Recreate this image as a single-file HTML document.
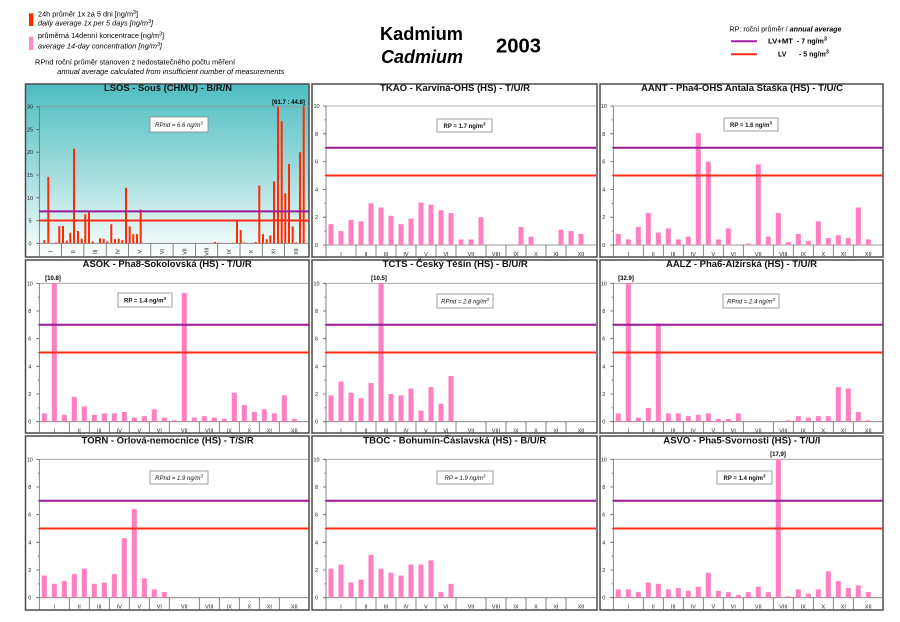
<!DOCTYPE html>
<html><head><meta charset="utf-8"><style>
html,body{margin:0;padding:0;background:#fff;}
body{width:900px;height:622px;overflow:hidden;}
svg{display:block;}
.t{font-size:9.4px;font-weight:bold;fill:#111;}
.ax{font-size:5.5px;fill:#222;text-anchor:middle;}
.bxt{font-size:6px;fill:#111;text-anchor:middle;}
</style></head><body>
<svg width="900" height="622" viewBox="0 0 900 622" xmlns="http://www.w3.org/2000/svg" font-family="'Liberation Sans', Arial, sans-serif">
<defs>
<linearGradient id="tg" x1="0" y1="0" x2="0" y2="1">
<stop offset="0" stop-color="#4dbdc1"/>
<stop offset="0.5" stop-color="#9fdcdd"/>
<stop offset="1" stop-color="#ffffff"/>
</linearGradient>
</defs>
<rect width="900" height="622" fill="#fff"/>

<!-- Header left legend -->
<rect x="29" y="13.3" width="4.3" height="12.7" fill="#ff2a00"/>
<text x="38" y="16.5" font-size="7" textLength="100" lengthAdjust="spacingAndGlyphs">24h průměr 1x za 5 dni [ng/m<tspan dy="-2.5" font-size="5">3</tspan><tspan dy="2.5">]</tspan></text>
<text x="38" y="25.5" font-size="7" font-style="italic" textLength="115" lengthAdjust="spacingAndGlyphs">daily average 1x per 5 days [ng/m<tspan dy="-2.5" font-size="5">3</tspan><tspan dy="2.5">]</tspan></text>
<rect x="29" y="36.7" width="4.3" height="13.3" fill="#ff88c8"/>
<text x="38" y="38" font-size="7" textLength="126" lengthAdjust="spacingAndGlyphs">průměrná 14denní koncentrace [ng/m<tspan dy="-2.5" font-size="5">3</tspan><tspan dy="2.5">]</tspan></text>
<text x="38" y="48.5" font-size="7" font-style="italic" textLength="124" lengthAdjust="spacingAndGlyphs">average 14-day concentration [ng/m<tspan dy="-2.5" font-size="5">3</tspan><tspan dy="2.5">]</tspan></text>
<text x="35" y="64.5" font-size="7" textLength="200" lengthAdjust="spacingAndGlyphs">RPnd  roční průměr stanoven z nedostatečného počtu měření</text>
<text x="57.3" y="74" font-size="7" font-style="italic" textLength="227" lengthAdjust="spacingAndGlyphs">annual average calculated from insufficient number of measurements</text>

<!-- Header center -->
<text x="380" y="40" font-size="18" font-weight="bold" textLength="83" lengthAdjust="spacingAndGlyphs">Kadmium</text>
<text x="381" y="63" font-size="18" font-weight="bold" font-style="italic" textLength="82" lengthAdjust="spacingAndGlyphs">Cadmium</text>
<text x="496" y="52.5" font-size="20" font-weight="bold" textLength="45" lengthAdjust="spacingAndGlyphs">2003</text>

<!-- Header right legend -->
<text x="729.5" y="31.5" font-size="7" textLength="112" lengthAdjust="spacingAndGlyphs">RP: roční průměr / <tspan font-style="italic" font-weight="bold">annual average</tspan></text>
<line x1="731" y1="41.3" x2="757" y2="41.3" stroke="#a020a0" stroke-width="2"/>
<text x="768" y="43.5" font-size="7" font-weight="bold" textLength="25" lengthAdjust="spacingAndGlyphs">LV+MT</text>
<text x="797" y="43.5" font-size="7" font-weight="bold">- 7 ng/m<tspan dy="-3" font-size="5.5">3</tspan></text>
<line x1="731" y1="54.3" x2="757" y2="54.3" stroke="#ff2a1a" stroke-width="2"/>
<text x="778" y="56.5" font-size="7" font-weight="bold">LV</text>
<text x="799" y="56.5" font-size="7" font-weight="bold">- 5 ng/m<tspan dy="-3" font-size="5.5">3</tspan></text>

<!-- Panel frames -->
<g fill="#fff" stroke="#4a4a4a" stroke-width="1.5">
<rect x="25.5" y="84" width="283.5" height="173" fill="url(#tg)"/>
<rect x="312" y="84" width="285" height="173"/>
<rect x="600" y="84" width="283" height="173"/>
<rect x="25.5" y="260" width="283.5" height="173"/>
<rect x="312" y="260" width="285" height="173"/>
<rect x="600" y="260" width="283" height="173"/>
<rect x="25.5" y="436" width="283.5" height="174"/>
<rect x="312" y="436" width="285" height="174"/>
<rect x="600" y="436" width="283" height="174"/>
</g>

<!-- Titles -->
<text class="t" x="104" y="91" textLength="128" lengthAdjust="spacingAndGlyphs">LSOS - Souš (CHMU) - B/R/N</text>
<text class="t" x="380" y="91" textLength="150" lengthAdjust="spacingAndGlyphs">TKAO - Karviná-OHS (HS) - T/U/R</text>
<text class="t" x="641" y="91" textLength="202" lengthAdjust="spacingAndGlyphs">AANT - Pha4-OHS Antala Staška (HS) - T/U/C</text>
<text class="t" x="82.7" y="267" textLength="169" lengthAdjust="spacingAndGlyphs">ASOK - Pha8-Sokolovská (HS) - T/U/R</text>
<text class="t" x="382.7" y="267" textLength="145" lengthAdjust="spacingAndGlyphs">TCTS - Český Těšín (HS) - B/U/R</text>
<text class="t" x="666" y="267" textLength="151" lengthAdjust="spacingAndGlyphs">AALZ - Pha6-Alžírská (HS) - T/U/R</text>
<text class="t" x="81.7" y="443.5" textLength="172" lengthAdjust="spacingAndGlyphs">TORN - Orlová-nemocnice (HS) - T/S/R</text>
<text class="t" x="363.3" y="443.5" textLength="183" lengthAdjust="spacingAndGlyphs">TBOC - Bohumín-Čáslavská (HS) - B/U/R</text>
<text class="t" x="663.3" y="443.5" textLength="157" lengthAdjust="spacingAndGlyphs">ASVO - Pha5-Svornosti (HS) - T/U/I</text>

<!-- ============ Panel 1 LSOS ============ -->
<g transform="translate(39.3,243.3)">
<line x1="0" y1="-136.6" x2="269.7" y2="-136.6" stroke="#999" stroke-width="0.8"/>
<line x1="0" y1="-136.6" x2="0" y2="13.7" stroke="#666" stroke-width="0.8"/>
<line x1="0" y1="0" x2="269.7" y2="0" stroke="#777" stroke-width="0.8"/>
<path d="M-3 0H0M-3 -22.8H0M-3 -45.5H0M-3 -68.3H0M-3 -91.1H0M-3 -113.8H0M-3 -136.6H0" stroke="#555" stroke-width="0.8"/>
<path d="M22.3 0V13.7M44.6 0V13.7M66.9 0V13.7M89.2 0V13.7M111.5 0V13.7M133.8 0V13.7M156.1 0V13.7M178.4 0V13.7M200.7 0V13.7M223 0V13.7M245.3 0V13.7" stroke="#666" stroke-width="0.8"/>
<g class="ax">
<text x="-9.3" y="2">0</text><text x="-9.3" y="-20.8">5</text><text x="-9.3" y="-43.5">10</text><text x="-9.3" y="-66.3">15</text><text x="-9.3" y="-89.1">20</text><text x="-9.3" y="-111.8">25</text><text x="-9.3" y="-134.6">30</text>
<text transform="translate(13.2,8.4) rotate(-90)">I</text>
<text transform="translate(35.5,8.4) rotate(-90)">II</text>
<text transform="translate(57.8,8.4) rotate(-90)">III</text>
<text transform="translate(80.1,8.4) rotate(-90)">IV</text>
<text transform="translate(102.4,8.4) rotate(-90)">V</text>
<text transform="translate(124.7,8.4) rotate(-90)">VI</text>
<text transform="translate(147,8.4) rotate(-90)">VII</text>
<text transform="translate(169.3,8.4) rotate(-90)">VIII</text>
<text transform="translate(191.6,8.4) rotate(-90)">IX</text>
<text transform="translate(213.9,8.4) rotate(-90)">X</text>
<text transform="translate(236.2,8.4) rotate(-90)">XI</text>
<text transform="translate(258.5,8.4) rotate(-90)">XII</text>
</g>
</g>
<g transform="translate(0,243.3) scale(1,-4.553)" fill="#ff2a00">
<rect x="43.3" width="2" height="0.7"/><rect x="47.3" width="2" height="14.6"/><rect x="54.7" width="2" height="0.15"/>
<rect x="58.3" width="2" height="3.8"/><rect x="62" width="2" height="3.8"/><rect x="65.7" width="2" height="0.6"/>
<rect x="69.3" width="2" height="2.3"/><rect x="73" width="2" height="20.8"/><rect x="77" width="2" height="2.7"/>
<rect x="80.7" width="2" height="1.0"/><rect x="84.3" width="2" height="6.4"/><rect x="88" width="2" height="7.0"/>
<rect x="91.7" width="2" height="0.4"/><rect x="99" width="2" height="1.1"/><rect x="102.7" width="2" height="1.0"/>
<rect x="106.3" width="2" height="0.4"/><rect x="110.3" width="2" height="4.2"/><rect x="114" width="2" height="0.9"/>
<rect x="117.7" width="2" height="1.0"/><rect x="121.3" width="2" height="0.7"/><rect x="125" width="2" height="12.2"/>
<rect x="128.7" width="2" height="3.7"/><rect x="132.3" width="2" height="2.0"/><rect x="136" width="2" height="2.0"/>
<rect x="139.7" width="2" height="7.4"/><rect x="214" width="2" height="0.3"/><rect x="217.7" width="2" height="0.1"/>
<rect x="232.3" width="2" height="0.1"/><rect x="236" width="2" height="5.1"/><rect x="239.7" width="2" height="2.9"/>
<rect x="243.3" width="2" height="0.2"/><rect x="251" width="2" height="0.1"/><rect x="254.7" width="2" height="0.3"/>
<rect x="258.3" width="2" height="12.7"/><rect x="262" width="2" height="2.0"/><rect x="265.7" width="2" height="0.9"/>
<rect x="269.3" width="2" height="1.7"/><rect x="273" width="2" height="13.6"/><rect x="277" width="2" height="30"/>
<rect x="280.7" width="2" height="26.8"/><rect x="284.3" width="2" height="11.0"/><rect x="288" width="2" height="17.4"/>
<rect x="291.7" width="2" height="3.7"/><rect x="295.3" width="2" height="0.2"/><rect x="299" width="2" height="20.0"/>
<rect x="302.7" width="2" height="30"/>
</g>
<line x1="39.3" y1="211.4" x2="309" y2="211.4" stroke="#9a1a9a" stroke-width="2"/>
<line x1="39.3" y1="220.5" x2="309" y2="220.5" stroke="#ff2a1a" stroke-width="2"/>
<text x="288.5" y="104" font-size="6" font-weight="bold" text-anchor="middle">[61.7 : 44.8]</text>
<rect x="150" y="117" width="58" height="15" fill="#fff" stroke="#888" stroke-width="0.8"/>
<text class="bxt" x="179" y="127" font-style="italic">RPnd = 6.6 ng/m<tspan dy="-2.5" font-size="4.5">3</tspan></text>

<!-- ============ Panel 2 TKAO ============ -->
<g transform="translate(326,245)">
<line x1="0" y1="-139" x2="270" y2="-139" stroke="#999" stroke-width="0.8"/>
<line x1="0" y1="-139" x2="0" y2="12" stroke="#666" stroke-width="0.8"/>
<line x1="0" y1="0" x2="270" y2="0" stroke="#777" stroke-width="0.8"/>
<path d="M-3 0H0M-3 -27.8H0M-3 -55.6H0M-3 -83.4H0M-3 -111.2H0M-3 -139H0M-1.5 -13.9H0M-1.5 -41.7H0M-1.5 -69.5H0M-1.5 -97.3H0M-1.5 -125.1H0" stroke="#555" stroke-width="0.8"/>
<path d="M30 0V12M50 0V12M70 0V12M90 0V12M110 0V12M130 0V12M160 0V12M180 0V12M200 0V12M220 0V12M240 0V12" stroke="#666" stroke-width="0.8"/>
<g transform="scale(1,-13.9)" fill="#ff80c0">
<rect x="2.5" width="5" height="1.5"/><rect x="12.5" width="5" height="1.0"/><rect x="22.5" width="5" height="1.8"/>
<rect x="32.5" width="5" height="1.7"/><rect x="42.5" width="5" height="3.0"/><rect x="52.5" width="5" height="2.7"/>
<rect x="62.5" width="5" height="2.1"/><rect x="72.5" width="5" height="1.5"/><rect x="82.5" width="5" height="1.9"/>
<rect x="92.5" width="5" height="3.05"/><rect x="102.5" width="5" height="2.9"/><rect x="112.5" width="5" height="2.5"/>
<rect x="122.5" width="5" height="2.3"/><rect x="132.5" width="5" height="0.4"/><rect x="142.5" width="5" height="0.4"/>
<rect x="152.5" width="5" height="2.0"/><rect x="192.5" width="5" height="1.3"/><rect x="202.5" width="5" height="0.6"/>
<rect x="232.5" width="5" height="1.1"/><rect x="242.5" width="5" height="1.0"/><rect x="252.5" width="5" height="0.8"/>
</g>
<line x1="0" y1="-97.3" x2="270" y2="-97.3" stroke="#9a1a9a" stroke-width="2"/>
<line x1="0" y1="-69.5" x2="270" y2="-69.5" stroke="#ff2a1a" stroke-width="2"/>
<g class="ax">
<text x="-9.5" y="2">0</text><text x="-9.5" y="-25.8">2</text><text x="-9.5" y="-53.6">4</text><text x="-9.5" y="-81.4">6</text><text x="-9.5" y="-109.2">8</text><text x="-9.5" y="-137">10</text>
<text x="15" y="11">I</text><text x="40" y="11">II</text><text x="60" y="11">III</text><text x="80" y="11">IV</text><text x="100" y="11">V</text><text x="120" y="11">VI</text><text x="145" y="11">VII</text><text x="170" y="11">VIII</text><text x="190" y="11">IX</text><text x="210" y="11">X</text><text x="230" y="11">XI</text><text x="255" y="11">XII</text>
</g>
</g>
<rect x="437" y="119" width="55" height="13" fill="#fff" stroke="#888" stroke-width="0.8"/>
<text class="bxt" x="464.5" y="128" font-weight="bold">RP = 1.7 ng/m<tspan dy="-2.5" font-size="4.5">3</tspan></text>

<!-- ============ Panel 3 AANT ============ -->
<g transform="translate(613.3,245)">
<line x1="0" y1="-139" x2="269" y2="-139" stroke="#999" stroke-width="0.8"/>
<line x1="0" y1="-139" x2="0" y2="12" stroke="#666" stroke-width="0.8"/>
<line x1="0" y1="0" x2="269" y2="0" stroke="#777" stroke-width="0.8"/>
<path d="M-3 0H0M-3 -27.8H0M-3 -55.6H0M-3 -83.4H0M-3 -111.2H0M-3 -139H0M-1.5 -13.9H0M-1.5 -41.7H0M-1.5 -69.5H0M-1.5 -97.3H0M-1.5 -125.1H0" stroke="#555" stroke-width="0.8"/>
<path d="M30 0V12M50 0V12M70 0V12M90 0V12M110 0V12M130 0V12M160 0V12M180 0V12M200 0V12M220 0V12M240 0V12" stroke="#666" stroke-width="0.8"/>
<g transform="scale(1,-13.9)" fill="#ff80c0">
<rect x="2.5" width="5" height="0.8"/><rect x="12.5" width="5" height="0.4"/><rect x="22.5" width="5" height="1.3"/>
<rect x="32.5" width="5" height="2.3"/><rect x="42.5" width="5" height="0.9"/><rect x="52.5" width="5" height="1.2"/>
<rect x="62.5" width="5" height="0.4"/><rect x="72.5" width="5" height="0.6"/><rect x="82.5" width="5" height="8.05"/>
<rect x="92.5" width="5" height="6.0"/><rect x="102.5" width="5" height="0.4"/><rect x="112.5" width="5" height="1.2"/>
<rect x="132.5" width="5" height="0.1"/><rect x="142.5" width="5" height="5.8"/><rect x="152.5" width="5" height="0.6"/>
<rect x="162.5" width="5" height="2.3"/><rect x="172.5" width="5" height="0.2"/><rect x="182.5" width="5" height="0.8"/>
<rect x="192.5" width="5" height="0.3"/><rect x="202.5" width="5" height="1.7"/><rect x="212.5" width="5" height="0.5"/>
<rect x="222.5" width="5" height="0.7"/><rect x="232.5" width="5" height="0.5"/><rect x="242.5" width="5" height="2.7"/>
<rect x="252.5" width="5" height="0.4"/>
</g>
<line x1="0" y1="-97.3" x2="269" y2="-97.3" stroke="#9a1a9a" stroke-width="2"/>
<line x1="0" y1="-69.5" x2="269" y2="-69.5" stroke="#ff2a1a" stroke-width="2"/>
<g class="ax">
<text x="-9.5" y="2">0</text><text x="-9.5" y="-25.8">2</text><text x="-9.5" y="-53.6">4</text><text x="-9.5" y="-81.4">6</text><text x="-9.5" y="-109.2">8</text><text x="-9.5" y="-137">10</text>
<text x="15" y="11">I</text><text x="40" y="11">II</text><text x="60" y="11">III</text><text x="80" y="11">IV</text><text x="100" y="11">V</text><text x="120" y="11">VI</text><text x="145" y="11">VII</text><text x="170" y="11">VIII</text><text x="190" y="11">IX</text><text x="210" y="11">X</text><text x="230" y="11">XI</text><text x="255" y="11">XII</text>
</g>
</g>
<rect x="724" y="118" width="54" height="13" fill="#fff" stroke="#888" stroke-width="0.8"/>
<text class="bxt" x="751" y="127" font-weight="bold">RP = 1.6 ng/m<tspan dy="-2.5" font-size="4.5">3</tspan></text>

<!-- ============ Panel 4 ASOK ============ -->
<g transform="translate(39.3,421.7)">
<line x1="0" y1="-138.4" x2="269.7" y2="-138.4" stroke="#999" stroke-width="0.8"/>
<line x1="0" y1="-138.4" x2="0" y2="11.3" stroke="#666" stroke-width="0.8"/>
<line x1="0" y1="0" x2="269.7" y2="0" stroke="#777" stroke-width="0.8"/>
<path d="M-3 0H0M-3 -27.7H0M-3 -55.4H0M-3 -83H0M-3 -110.7H0M-3 -138.4H0M-1.5 -13.8H0M-1.5 -41.5H0M-1.5 -69.2H0M-1.5 -96.9H0M-1.5 -124.6H0" stroke="#555" stroke-width="0.8"/>
<path d="M30 0V11.3M50 0V11.3M70 0V11.3M90 0V11.3M110 0V11.3M130 0V11.3M160 0V11.3M180 0V11.3M200 0V11.3M220 0V11.3M240 0V11.3" stroke="#666" stroke-width="0.8"/>
<g transform="scale(1,-13.84)" fill="#ff80c0">
<rect x="2.5" width="5" height="0.6"/><rect x="12.5" width="5" height="10"/><rect x="22.5" width="5" height="0.5"/>
<rect x="32.5" width="5" height="1.8"/><rect x="42.5" width="5" height="1.1"/><rect x="52.5" width="5" height="0.5"/>
<rect x="62.5" width="5" height="0.6"/><rect x="72.5" width="5" height="0.6"/><rect x="82.5" width="5" height="0.7"/>
<rect x="92.5" width="5" height="0.3"/><rect x="102.5" width="5" height="0.4"/><rect x="112.5" width="5" height="0.9"/>
<rect x="122.5" width="5" height="0.3"/><rect x="132.5" width="5" height="0.1"/><rect x="142.5" width="5" height="9.3"/>
<rect x="152.5" width="5" height="0.3"/><rect x="162.5" width="5" height="0.4"/><rect x="172.5" width="5" height="0.3"/>
<rect x="182.5" width="5" height="0.2"/><rect x="192.5" width="5" height="2.1"/><rect x="202.5" width="5" height="1.2"/>
<rect x="212.5" width="5" height="0.7"/><rect x="222.5" width="5" height="0.9"/><rect x="232.5" width="5" height="0.6"/>
<rect x="242.5" width="5" height="1.9"/><rect x="252.5" width="5" height="0.2"/>
</g>
<line x1="0" y1="-96.9" x2="269.7" y2="-96.9" stroke="#9a1a9a" stroke-width="2"/>
<line x1="0" y1="-69.2" x2="269.7" y2="-69.2" stroke="#ff2a1a" stroke-width="2"/>
<g class="ax">
<text x="-9.5" y="2">0</text><text x="-9.5" y="-25.7">2</text><text x="-9.5" y="-53.4">4</text><text x="-9.5" y="-81">6</text><text x="-9.5" y="-108.7">8</text><text x="-9.5" y="-136.4">10</text>
<text x="15" y="10.8">I</text><text x="40" y="10.8">II</text><text x="60" y="10.8">III</text><text x="80" y="10.8">IV</text><text x="100" y="10.8">V</text><text x="120" y="10.8">VI</text><text x="145" y="10.8">VII</text><text x="170" y="10.8">VIII</text><text x="190" y="10.8">IX</text><text x="210" y="10.8">X</text><text x="230" y="10.8">XI</text><text x="255" y="10.8">XII</text>
</g>
</g>
<text x="53" y="280" font-size="6" font-weight="bold" text-anchor="middle">[10.8]</text>
<rect x="118" y="293" width="54" height="14" fill="#fff" stroke="#888" stroke-width="0.8"/>
<text class="bxt" x="145" y="302.5" font-weight="bold">RP = 1.4 ng/m<tspan dy="-2.5" font-size="4.5">3</tspan></text>

<!-- ============ Panel 5 TCTS ============ -->
<g transform="translate(326,421.7)">
<line x1="0" y1="-138.4" x2="270" y2="-138.4" stroke="#999" stroke-width="0.8"/>
<line x1="0" y1="-138.4" x2="0" y2="11.3" stroke="#666" stroke-width="0.8"/>
<line x1="0" y1="0" x2="270" y2="0" stroke="#777" stroke-width="0.8"/>
<path d="M-3 0H0M-3 -27.7H0M-3 -55.4H0M-3 -83H0M-3 -110.7H0M-3 -138.4H0M-1.5 -13.8H0M-1.5 -41.5H0M-1.5 -69.2H0M-1.5 -96.9H0M-1.5 -124.6H0" stroke="#555" stroke-width="0.8"/>
<path d="M30 0V11.3M50 0V11.3M70 0V11.3M90 0V11.3M110 0V11.3M130 0V11.3M160 0V11.3M180 0V11.3M200 0V11.3M220 0V11.3M240 0V11.3" stroke="#666" stroke-width="0.8"/>
<g transform="scale(1,-13.84)" fill="#ff80c0">
<rect x="2.5" width="5" height="1.9"/><rect x="12.5" width="5" height="2.9"/><rect x="22.5" width="5" height="2.1"/>
<rect x="32.5" width="5" height="1.7"/><rect x="42.5" width="5" height="2.8"/><rect x="52.5" width="5" height="10"/>
<rect x="62.5" width="5" height="2.0"/><rect x="72.5" width="5" height="1.9"/><rect x="82.5" width="5" height="2.4"/>
<rect x="92.5" width="5" height="0.8"/><rect x="102.5" width="5" height="2.5"/><rect x="112.5" width="5" height="1.3"/>
<rect x="122.5" width="5" height="3.3"/>
</g>
<line x1="0" y1="-96.9" x2="270" y2="-96.9" stroke="#9a1a9a" stroke-width="2"/>
<line x1="0" y1="-69.2" x2="270" y2="-69.2" stroke="#ff2a1a" stroke-width="2"/>
<g class="ax">
<text x="-9.5" y="2">0</text><text x="-9.5" y="-25.7">2</text><text x="-9.5" y="-53.4">4</text><text x="-9.5" y="-81">6</text><text x="-9.5" y="-108.7">8</text><text x="-9.5" y="-136.4">10</text>
<text x="15" y="10.8">I</text><text x="40" y="10.8">II</text><text x="60" y="10.8">III</text><text x="80" y="10.8">IV</text><text x="100" y="10.8">V</text><text x="120" y="10.8">VI</text><text x="145" y="10.8">VII</text><text x="170" y="10.8">VIII</text><text x="190" y="10.8">IX</text><text x="210" y="10.8">X</text><text x="230" y="10.8">XI</text><text x="255" y="10.8">XII</text>
</g>
</g>
<text x="379" y="280" font-size="6" font-weight="bold" text-anchor="middle">[10.5]</text>
<rect x="437" y="294" width="56" height="14" fill="#fff" stroke="#888" stroke-width="0.8"/>
<text class="bxt" x="465" y="303.5" font-style="italic">RPnd = 2.8 ng/m<tspan dy="-2.5" font-size="4.5">3</tspan></text>

<!-- ============ Panel 6 AALZ ============ -->
<g transform="translate(613.3,421.7)">
<line x1="0" y1="-138.4" x2="269" y2="-138.4" stroke="#999" stroke-width="0.8"/>
<line x1="0" y1="-138.4" x2="0" y2="11.3" stroke="#666" stroke-width="0.8"/>
<line x1="0" y1="0" x2="269" y2="0" stroke="#777" stroke-width="0.8"/>
<path d="M-3 0H0M-3 -27.7H0M-3 -55.4H0M-3 -83H0M-3 -110.7H0M-3 -138.4H0M-1.5 -13.8H0M-1.5 -41.5H0M-1.5 -69.2H0M-1.5 -96.9H0M-1.5 -124.6H0" stroke="#555" stroke-width="0.8"/>
<path d="M30 0V11.3M50 0V11.3M70 0V11.3M90 0V11.3M110 0V11.3M130 0V11.3M160 0V11.3M180 0V11.3M200 0V11.3M220 0V11.3M240 0V11.3" stroke="#666" stroke-width="0.8"/>
<g transform="scale(1,-13.84)" fill="#ff80c0">
<rect x="2.5" width="5" height="0.6"/><rect x="12.5" width="5" height="10"/><rect x="22.5" width="5" height="0.3"/>
<rect x="32.5" width="5" height="1.0"/><rect x="42.5" width="5" height="7.1"/><rect x="52.5" width="5" height="0.6"/>
<rect x="62.5" width="5" height="0.6"/><rect x="72.5" width="5" height="0.4"/><rect x="82.5" width="5" height="0.5"/>
<rect x="92.5" width="5" height="0.6"/><rect x="102.5" width="5" height="0.2"/><rect x="112.5" width="5" height="0.2"/>
<rect x="122.5" width="5" height="0.6"/><rect x="172.5" width="5" height="0.1"/><rect x="182.5" width="5" height="0.4"/>
<rect x="192.5" width="5" height="0.3"/><rect x="202.5" width="5" height="0.4"/><rect x="212.5" width="5" height="0.4"/>
<rect x="222.5" width="5" height="2.5"/><rect x="232.5" width="5" height="2.4"/><rect x="242.5" width="5" height="0.7"/>
<rect x="252.5" width="5" height="0.1"/>
</g>
<line x1="0" y1="-96.9" x2="269" y2="-96.9" stroke="#9a1a9a" stroke-width="2"/>
<line x1="0" y1="-69.2" x2="269" y2="-69.2" stroke="#ff2a1a" stroke-width="2"/>
<g class="ax">
<text x="-9.5" y="2">0</text><text x="-9.5" y="-25.7">2</text><text x="-9.5" y="-53.4">4</text><text x="-9.5" y="-81">6</text><text x="-9.5" y="-108.7">8</text><text x="-9.5" y="-136.4">10</text>
<text x="15" y="10.8">I</text><text x="40" y="10.8">II</text><text x="60" y="10.8">III</text><text x="80" y="10.8">IV</text><text x="100" y="10.8">V</text><text x="120" y="10.8">VI</text><text x="145" y="10.8">VII</text><text x="170" y="10.8">VIII</text><text x="190" y="10.8">IX</text><text x="210" y="10.8">X</text><text x="230" y="10.8">XI</text><text x="255" y="10.8">XII</text>
</g>
</g>
<text x="626" y="280" font-size="6" font-weight="bold" text-anchor="middle">[32.9]</text>
<rect x="723" y="294" width="56" height="14" fill="#fff" stroke="#888" stroke-width="0.8"/>
<text class="bxt" x="751" y="303.5" font-style="italic">RPnd = 2.4 ng/m<tspan dy="-2.5" font-size="4.5">3</tspan></text>

<!-- ============ Panel 7 TORN ============ -->
<g transform="translate(39.3,597.7)">
<line x1="0" y1="-138.4" x2="269.7" y2="-138.4" stroke="#999" stroke-width="0.8"/>
<line x1="0" y1="-138.4" x2="0" y2="12.3" stroke="#666" stroke-width="0.8"/>
<line x1="0" y1="0" x2="269.7" y2="0" stroke="#777" stroke-width="0.8"/>
<path d="M-3 0H0M-3 -27.7H0M-3 -55.4H0M-3 -83H0M-3 -110.7H0M-3 -138.4H0M-1.5 -13.8H0M-1.5 -41.5H0M-1.5 -69.2H0M-1.5 -96.9H0M-1.5 -124.6H0" stroke="#555" stroke-width="0.8"/>
<path d="M30 0V12.3M50 0V12.3M70 0V12.3M90 0V12.3M110 0V12.3M130 0V12.3M160 0V12.3M180 0V12.3M200 0V12.3M220 0V12.3M240 0V12.3" stroke="#666" stroke-width="0.8"/>
<g transform="scale(1,-13.84)" fill="#ff80c0">
<rect x="2.5" width="5" height="1.6"/><rect x="12.5" width="5" height="1.0"/><rect x="22.5" width="5" height="1.2"/>
<rect x="32.5" width="5" height="1.7"/><rect x="42.5" width="5" height="2.1"/><rect x="52.5" width="5" height="1.0"/>
<rect x="62.5" width="5" height="1.1"/><rect x="72.5" width="5" height="1.7"/><rect x="82.5" width="5" height="4.3"/>
<rect x="92.5" width="5" height="6.4"/><rect x="102.5" width="5" height="1.4"/><rect x="112.5" width="5" height="0.6"/>
<rect x="122.5" width="5" height="0.4"/>
</g>
<line x1="0" y1="-96.9" x2="269.7" y2="-96.9" stroke="#9a1a9a" stroke-width="2"/>
<line x1="0" y1="-69.2" x2="269.7" y2="-69.2" stroke="#ff2a1a" stroke-width="2"/>
<g class="ax">
<text x="-9.5" y="2">0</text><text x="-9.5" y="-25.7">2</text><text x="-9.5" y="-53.4">4</text><text x="-9.5" y="-81">6</text><text x="-9.5" y="-108.7">8</text><text x="-9.5" y="-136.4">10</text>
<text x="15" y="11">I</text><text x="40" y="11">II</text><text x="60" y="11">III</text><text x="80" y="11">IV</text><text x="100" y="11">V</text><text x="120" y="11">VI</text><text x="145" y="11">VII</text><text x="170" y="11">VIII</text><text x="190" y="11">IX</text><text x="210" y="11">X</text><text x="230" y="11">XI</text><text x="255" y="11">XII</text>
</g>
</g>
<rect x="150" y="471" width="58" height="13" fill="#fff" stroke="#888" stroke-width="0.8"/>
<text class="bxt" x="179" y="480" font-style="italic">RPnd = 1.9 ng/m<tspan dy="-2.5" font-size="4.5">3</tspan></text>

<!-- ============ Panel 8 TBOC ============ -->
<g transform="translate(326,597.7)">
<line x1="0" y1="-138.4" x2="270" y2="-138.4" stroke="#999" stroke-width="0.8"/>
<line x1="0" y1="-138.4" x2="0" y2="12.3" stroke="#666" stroke-width="0.8"/>
<line x1="0" y1="0" x2="270" y2="0" stroke="#777" stroke-width="0.8"/>
<path d="M-3 0H0M-3 -27.7H0M-3 -55.4H0M-3 -83H0M-3 -110.7H0M-3 -138.4H0M-1.5 -13.8H0M-1.5 -41.5H0M-1.5 -69.2H0M-1.5 -96.9H0M-1.5 -124.6H0" stroke="#555" stroke-width="0.8"/>
<path d="M30 0V12.3M50 0V12.3M70 0V12.3M90 0V12.3M110 0V12.3M130 0V12.3M160 0V12.3M180 0V12.3M200 0V12.3M220 0V12.3M240 0V12.3" stroke="#666" stroke-width="0.8"/>
<g transform="scale(1,-13.84)" fill="#ff80c0">
<rect x="2.5" width="5" height="2.1"/><rect x="12.5" width="5" height="2.4"/><rect x="22.5" width="5" height="1.1"/>
<rect x="32.5" width="5" height="1.3"/><rect x="42.5" width="5" height="3.1"/><rect x="52.5" width="5" height="2.1"/>
<rect x="62.5" width="5" height="1.8"/><rect x="72.5" width="5" height="1.6"/><rect x="82.5" width="5" height="2.4"/>
<rect x="92.5" width="5" height="2.4"/><rect x="102.5" width="5" height="2.7"/><rect x="112.5" width="5" height="0.4"/>
<rect x="122.5" width="5" height="1.0"/>
</g>
<line x1="0" y1="-96.9" x2="270" y2="-96.9" stroke="#9a1a9a" stroke-width="2"/>
<line x1="0" y1="-69.2" x2="270" y2="-69.2" stroke="#ff2a1a" stroke-width="2"/>
<g class="ax">
<text x="-9.5" y="2">0</text><text x="-9.5" y="-25.7">2</text><text x="-9.5" y="-53.4">4</text><text x="-9.5" y="-81">6</text><text x="-9.5" y="-108.7">8</text><text x="-9.5" y="-136.4">10</text>
<text x="15" y="11">I</text><text x="40" y="11">II</text><text x="60" y="11">III</text><text x="80" y="11">IV</text><text x="100" y="11">V</text><text x="120" y="11">VI</text><text x="145" y="11">VII</text><text x="170" y="11">VIII</text><text x="190" y="11">IX</text><text x="210" y="11">X</text><text x="230" y="11">XI</text><text x="255" y="11">XII</text>
</g>
</g>
<rect x="437" y="471" width="56" height="13" fill="#fff" stroke="#888" stroke-width="0.8"/>
<text class="bxt" x="465" y="480" font-style="italic">RP = 1.9 ng/m<tspan dy="-2.5" font-size="4.5">3</tspan></text>

<!-- ============ Panel 9 ASVO ============ -->
<g transform="translate(613.3,597.7)">
<line x1="0" y1="-138.4" x2="269" y2="-138.4" stroke="#999" stroke-width="0.8"/>
<line x1="0" y1="-138.4" x2="0" y2="12.3" stroke="#666" stroke-width="0.8"/>
<line x1="0" y1="0" x2="269" y2="0" stroke="#777" stroke-width="0.8"/>
<path d="M-3 0H0M-3 -27.7H0M-3 -55.4H0M-3 -83H0M-3 -110.7H0M-3 -138.4H0M-1.5 -13.8H0M-1.5 -41.5H0M-1.5 -69.2H0M-1.5 -96.9H0M-1.5 -124.6H0" stroke="#555" stroke-width="0.8"/>
<path d="M30 0V12.3M50 0V12.3M70 0V12.3M90 0V12.3M110 0V12.3M130 0V12.3M160 0V12.3M180 0V12.3M200 0V12.3M220 0V12.3M240 0V12.3" stroke="#666" stroke-width="0.8"/>
<g transform="scale(1,-13.84)" fill="#ff80c0">
<rect x="2.5" width="5" height="0.6"/><rect x="12.5" width="5" height="0.6"/><rect x="22.5" width="5" height="0.4"/>
<rect x="32.5" width="5" height="1.1"/><rect x="42.5" width="5" height="1.0"/><rect x="52.5" width="5" height="0.6"/>
<rect x="62.5" width="5" height="0.7"/><rect x="72.5" width="5" height="0.5"/><rect x="82.5" width="5" height="0.8"/>
<rect x="92.5" width="5" height="1.8"/><rect x="102.5" width="5" height="0.5"/><rect x="112.5" width="5" height="0.4"/>
<rect x="122.5" width="5" height="0.2"/><rect x="132.5" width="5" height="0.4"/><rect x="142.5" width="5" height="0.8"/>
<rect x="152.5" width="5" height="0.4"/><rect x="162.5" width="5" height="10"/><rect x="172.5" width="5" height="0.1"/>
<rect x="182.5" width="5" height="0.6"/><rect x="192.5" width="5" height="0.3"/><rect x="202.5" width="5" height="0.6"/>
<rect x="212.5" width="5" height="1.9"/><rect x="222.5" width="5" height="1.2"/><rect x="232.5" width="5" height="0.7"/>
<rect x="242.5" width="5" height="0.9"/><rect x="252.5" width="5" height="0.4"/>
</g>
<line x1="0" y1="-96.9" x2="269" y2="-96.9" stroke="#9a1a9a" stroke-width="2"/>
<line x1="0" y1="-69.2" x2="269" y2="-69.2" stroke="#ff2a1a" stroke-width="2"/>
<g class="ax">
<text x="-9.5" y="2">0</text><text x="-9.5" y="-25.7">2</text><text x="-9.5" y="-53.4">4</text><text x="-9.5" y="-81">6</text><text x="-9.5" y="-108.7">8</text><text x="-9.5" y="-136.4">10</text>
<text x="15" y="11">I</text><text x="40" y="11">II</text><text x="60" y="11">III</text><text x="80" y="11">IV</text><text x="100" y="11">V</text><text x="120" y="11">VI</text><text x="145" y="11">VII</text><text x="170" y="11">VIII</text><text x="190" y="11">IX</text><text x="210" y="11">X</text><text x="230" y="11">XI</text><text x="255" y="11">XII</text>
</g>
</g>
<text x="778" y="456" font-size="6" font-weight="bold" text-anchor="middle">[17,9]</text>
<rect x="717" y="471" width="55" height="13" fill="#fff" stroke="#888" stroke-width="0.8"/>
<text class="bxt" x="744.5" y="480" font-weight="bold">RP = 1.4 ng/m<tspan dy="-2.5" font-size="4.5">3</tspan></text>
</svg>
</body></html>
